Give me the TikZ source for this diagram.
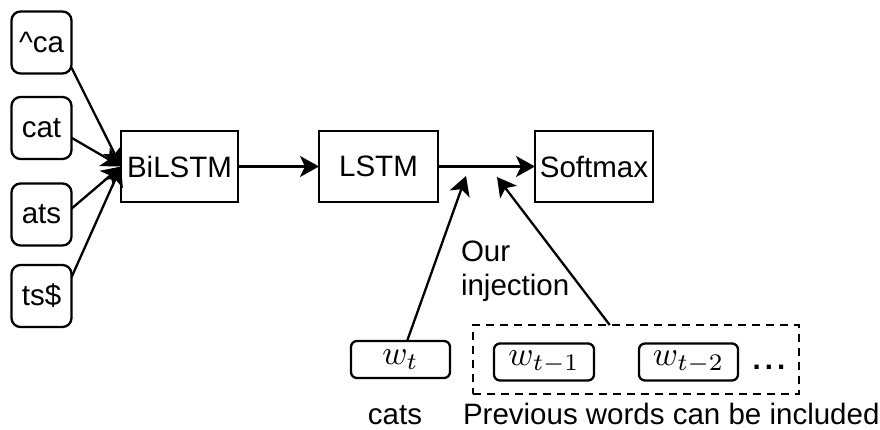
\documentclass[tikz,border=0pt]{standalone}
\usepackage{graphicx}
\usepackage{fontspec}
\setmainfont{Liberation Sans}
\usetikzlibrary{arrows.meta}
\newcommand{\wordmath}[1]{\scalebox{3.4}{$#1$}}
\begin{document}
\begin{tikzpicture}[x=1pt,y=-1pt,
  every node/.style={inner sep=0pt, outer sep=0pt},
  lbl/.style={font=\fontsize{29.5}{34}\selectfont},
  chbox/.style={draw, line width=2.3pt, rounded corners=9pt, minimum width=60pt, minimum height=62pt, lbl},
  blk/.style={draw, line width=2.3pt, minimum height=71pt, lbl},
  wbox/.style={draw, line width=2.3pt, rounded corners=6pt, minimum height=37pt},
  arr/.style={line width=2.3pt, -{Stealth[length=19pt,width=21pt,inset=5pt]}},
  ]
\useasboundingbox (0,0) rectangle (880,430);
% character n-gram boxes
\node[chbox] (ca)  at (41.5,42.5) {\^{}ca};
\node[chbox] (cat) at (41.5,128)  {cat};
\node[chbox] (ats) at (41.5,214.5) {ats};
\node[chbox] (ts)  at (41.5,296)  {ts\$};
% main blocks
\node[blk, minimum width=117pt] (bi) at (179.5,166.5) {BiLSTM};
\node[blk, minimum width=119pt] (lstm) at (378.5,166.5) {LSTM};
\node[blk, minimum width=118pt] (soft) at (594,166.5) {Softmax};
% word boxes
\node[wbox, minimum width=99pt] (wt) at (400.5,359.5) {\wordmath{w_t}};
\node[draw, line width=2.3pt, dash pattern=on 8pt off 6pt, minimum width=326pt, minimum height=69pt] (prev) at (636,359.5) {};
\node[wbox, minimum width=100pt] (wt1) at (544,362) {\wordmath{w_{t-1}}};
\node[wbox, minimum width=99pt] (wt2) at (688.5,362) {\wordmath{w_{t-2}}};
\node[lbl, anchor=base] (dots) at (769,369) {\textbf{.\kern4pt.\kern4pt.}};
% labels
\node[lbl, anchor=west, align=left] (inj) at (461,271) {Our\\injection};
\node[lbl, anchor=base] (cats) at (395,424) {cats};
\node[lbl, anchor=base west] (prevtxt) at (463,424) {Previous words can be included};
% injection points
\coordinate (inj1) at (466,176);
\coordinate (inj2) at (497,177);
% connectors
\draw[arr] (ca.-40) -- (bi.west);
\draw[arr] (cat.-18) -- (bi.west);
\draw[arr] (ats.11) -- (bi.west);
\draw[arr] (ts.32) -- (bi.west);
\draw[arr] (bi) -- (lstm);
\draw[arr] (lstm) -- (soft);
\draw[arr] (wt) -- (inj1);
\draw[arr] (prev) -- (inj2);
\end{tikzpicture}
\end{document}
